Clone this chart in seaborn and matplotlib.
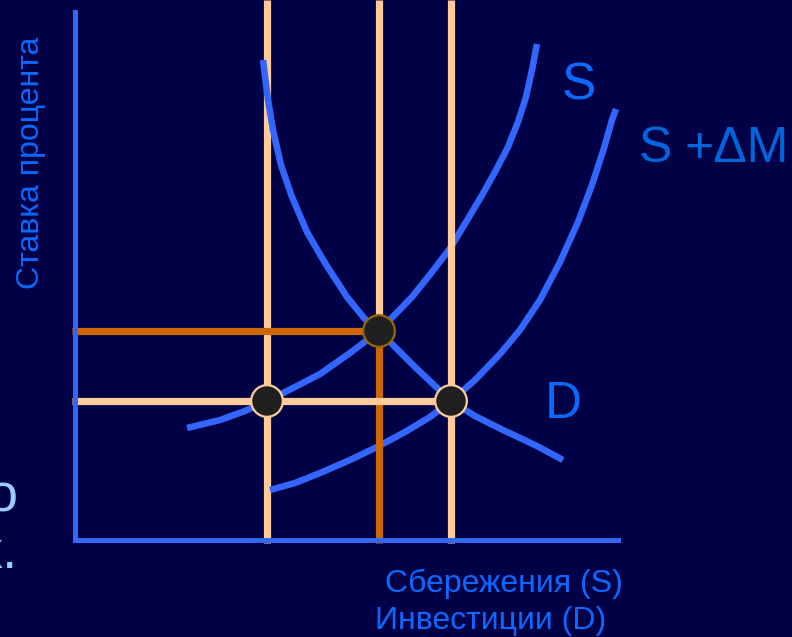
import numpy as np
import pandas as pd
import matplotlib
matplotlib.use("Agg")
import matplotlib.pyplot as plt
import seaborn as sns

# Curves: quantity (Q) vs interest rate (r)
d_q = [18.8, 19.3, 19.8, 20.6, 21.7, 23.2, 25.0, 27.2, 28.9, 30.4, 34.0, 37.6, 40.0, 42.8, 46.2, 48.8]
d_r = [48.0, 44.0, 41.0, 37.5, 34.3, 30.8, 27.7, 24.3, 22.2, 20.9, 17.3, 13.9, 12.4, 11.0, 9.4, 8.0]

s_q = [11.2, 14.5, 17.0, 19.2, 22.0, 24.5, 27.5, 30.4, 33.7, 35.7, 37.6, 39.1, 40.6, 42.0, 43.3, 44.3, 45.1, 45.7, 46.2]
s_r = [11.2, 12.0, 12.9, 13.9, 15.3, 16.6, 18.7, 20.9, 24.3, 26.8, 29.3, 31.8, 34.3, 36.8, 39.3, 41.8, 44.3, 47.0, 49.6]

sm_q = [19.5, 22.0, 24.5, 27.5, 30.2, 33.0, 35.5, 37.6, 40.0, 42.5, 44.5, 46.5, 48.5, 50.3, 51.7, 52.9, 53.7, 54.1]
sm_r = [5.0, 5.7, 6.7, 8.0, 9.3, 10.8, 12.3, 13.9, 16.0, 18.6, 21.0, 24.0, 27.8, 31.8, 35.5, 39.2, 42.0, 43.1]

# equilibrium points
eq_q = [19.2, 30.4, 37.6]
eq_r = [13.9, 20.9, 13.9]
eq_edge = ["#FFCC99", "#996600", "#FFCC99"]

BG = "#000046"
BLUE = "#3366FF"
LABEL = "#0A6AFF"
PEACH = "#FFCC99"
ORANGE = "#CC6600"

sns.set_style("dark", {"axes.facecolor": BG, "figure.facecolor": BG})
plt.rcParams['font.family'] = ['Liberation Sans', 'DejaVu Sans']

W, H = 792, 637
fig = plt.figure(figsize=(W / 100, H / 100), dpi=100)
ax = fig.add_axes([75 / W, 97 / H, 717 / W, 540 / H])
ax.set_xlim(0, 71.7)
ax.set_ylim(0, 54)
ax.set_xticks([])
ax.set_yticks([])
ax.grid(False)

for side in ["top", "right"]:
    ax.spines[side].set_visible(False)
for side in ["left", "bottom"]:
    ax.spines[side].set_color(BLUE)
    ax.spines[side].set_linewidth(3.6)
    ax.spines[side].set_zorder(6)
ax.spines["left"].set_bounds(0, 52.8)
ax.spines["bottom"].set_bounds(0, 54.3)

# guide lines
lw = 5.2
ax.plot([eq_q[0], eq_q[0]], [-0.3, 54], color=PEACH, lw=lw, zorder=1,
        solid_capstyle="butt", clip_on=False)
ax.plot([eq_q[2], eq_q[2]], [-0.3, 54], color=PEACH, lw=lw, zorder=4,
        solid_capstyle="butt", clip_on=False)
ax.plot([eq_q[1], eq_q[1]], [eq_r[1], 54], color=PEACH, lw=lw, zorder=4,
        solid_capstyle="butt", clip_on=False)
ax.plot([eq_q[1], eq_q[1]], [-0.3, eq_r[1]], color=ORANGE, lw=lw, zorder=4,
        solid_capstyle="butt", clip_on=False)
ax.plot([-0.3, eq_q[1]], [eq_r[1], eq_r[1]], color=ORANGE, lw=lw, zorder=4,
        solid_capstyle="butt", clip_on=False)
ax.plot([-0.3, eq_q[2]], [eq_r[0], eq_r[0]], color=PEACH, lw=lw, zorder=4,
        solid_capstyle="butt", clip_on=False)

# curves
curves = pd.concat([
    pd.DataFrame({"Q": d_q, "r": d_r, "curve": "D"}),
    pd.DataFrame({"Q": s_q, "r": s_r, "curve": "S"}),
    pd.DataFrame({"Q": sm_q, "r": sm_r, "curve": "S+dM"}),
])
sns.lineplot(data=curves, x="Q", y="r", units="curve", estimator=None, sort=False,
             color=BLUE, lw=4.7, ax=ax, zorder=3, legend=False,
             solid_capstyle="butt", solid_joinstyle="round")
ax.set_xlabel("")
ax.set_ylabel("")

# equilibrium dots
sns.scatterplot(x=eq_q, y=eq_r, s=520, color="#202020", edgecolor=eq_edge,
                linewidth=1.6, ax=ax, zorder=5, legend=False, clip_on=False)

# labels
def px(x, y):
    return x / W, 1 - y / H

fig.text(*px(579, 86), "S", color=LABEL, fontsize=37, ha="center", va="center")
fig.text(*px(639, 149), "S", color="#0066DD", fontsize=36, ha="left", va="center")
fig.text(*px(789, 149), "+ΔM", color="#0066DD", fontsize=36, ha="right", va="center")
fig.text(*px(563, 405), "D", color=LABEL, fontsize=37, ha="center", va="center")
fig.text(*px(31, 163), "Ставка процента", color=LABEL, fontsize=23,
         rotation=90, ha="center", va="center")
fig.text(*px(504, 584), "Сбережения (S)", color=LABEL, fontsize=23, ha="center", va="center")
fig.text(*px(491, 621), "Инвестиции (D)", color=LABEL, fontsize=23, ha="center", va="center")

# fragments of slide text cut at the left edge
fig.text(*px(18, 512), "о", color="#99CCFF", fontsize=39, ha="right", va="baseline")
fig.text(*px(18, 568), "х.", color="#99CCFF", fontsize=39, ha="right", va="baseline")

fig.savefig("out.png", dpi=100, facecolor=BG)
